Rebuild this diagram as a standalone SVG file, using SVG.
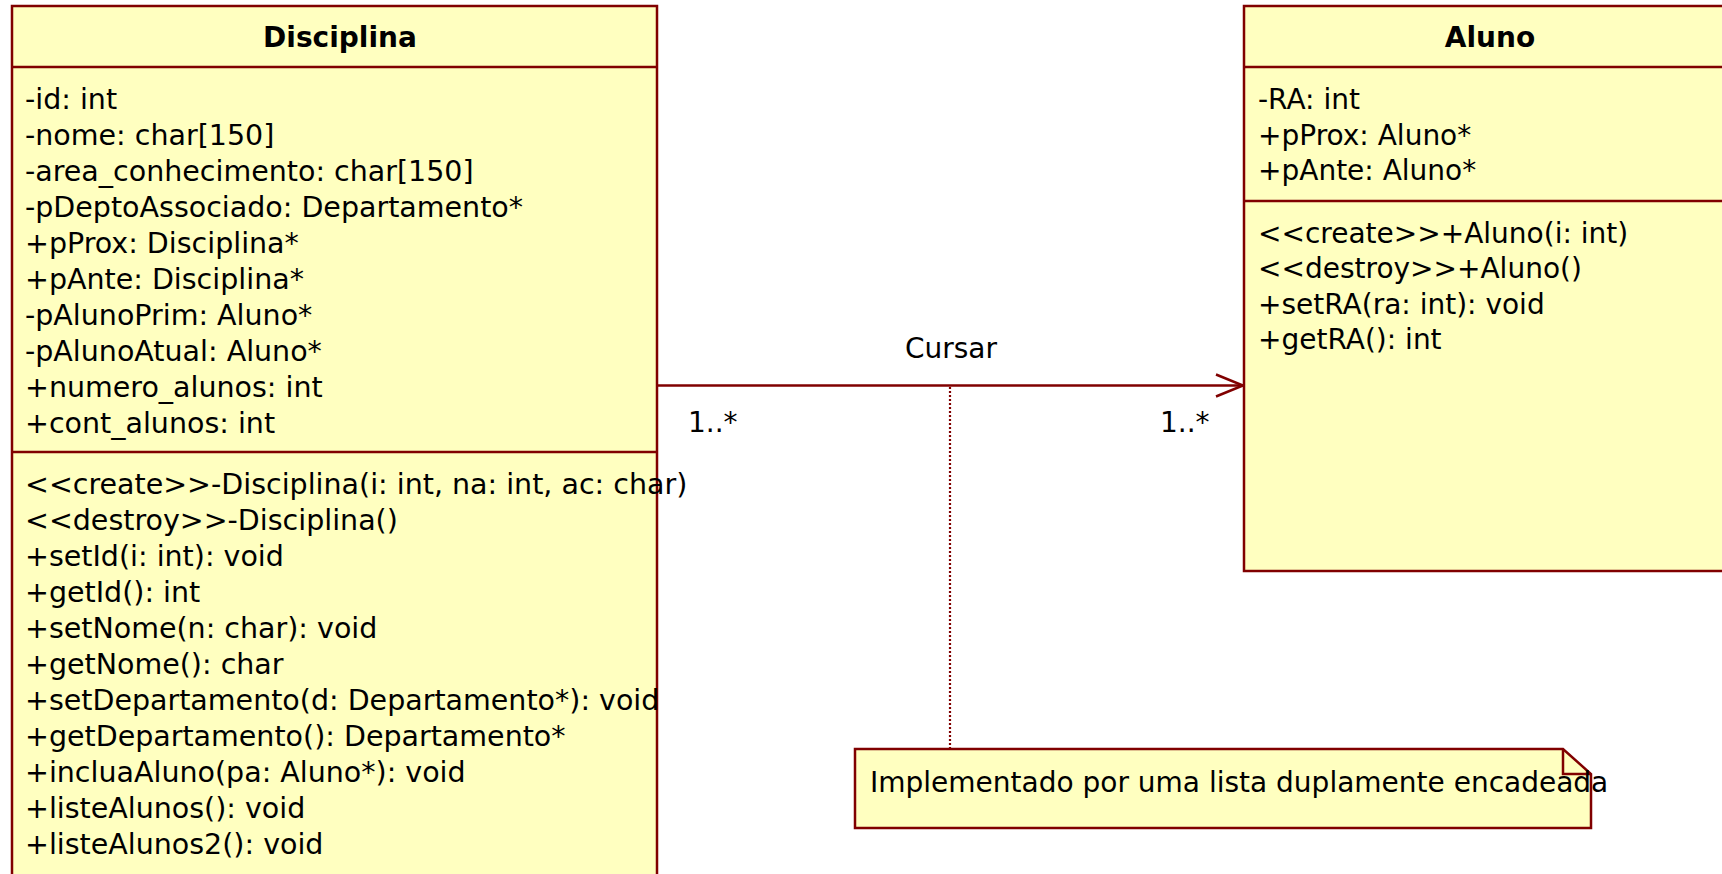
<svg xmlns="http://www.w3.org/2000/svg" width="1722" height="874" viewBox="0 0 1722 874">
<style>
.box{fill:#FFFFC0;stroke:#800000;stroke-width:2.5}
.div{stroke:#800000;stroke-width:2.5}
.t{font-family:"DejaVu Sans",Verdana,sans-serif;font-size:28px;fill:#000}
.td{font-family:"DejaVu Sans",Verdana,sans-serif;font-size:28.5px;fill:#000}
.title{font-family:"DejaVu Sans",Verdana,sans-serif;font-size:28px;font-weight:bold;fill:#000;text-anchor:middle}
.conn{stroke:#800000;stroke-width:2.5;fill:none}
.dot{stroke:#800000;stroke-width:2.2;fill:none;stroke-dasharray:2,2}
</style>
<rect width="1722" height="874" fill="#fff"/>
<g id="connectors">
<line class="conn" x1="657" y1="385.5" x2="1243" y2="385.5"/>
<polyline class="conn" points="1216,374.5 1243,385.5 1216,396.5"/>
<line class="dot" x1="950" y1="387" x2="950" y2="748"/>
<text class="t" x="951" y="358" text-anchor="middle">Cursar</text>
<text class="t" x="688" y="432">1..*</text>
<text class="t" x="1160" y="432">1..*</text>
</g>
<g id="Disciplina">
<rect class="box" x="12" y="6" width="645" height="880"/>
<line class="div" x1="12" y1="67" x2="657" y2="67"/>
<line class="div" x1="12" y1="452" x2="657" y2="452"/>
<text class="title" x="340" y="47">Disciplina</text>
<text class="td" x="25" y="109">-id: int</text>
<text class="td" x="25" y="145">-nome: char[150]</text>
<text class="td" x="25" y="181">-area_conhecimento: char[150]</text>
<text class="td" x="25" y="217">-pDeptoAssociado: Departamento*</text>
<text class="td" x="25" y="253">+pProx: Disciplina*</text>
<text class="td" x="25" y="289">+pAnte: Disciplina*</text>
<text class="td" x="25" y="325">-pAlunoPrim: Aluno*</text>
<text class="td" x="25" y="361">-pAlunoAtual: Aluno*</text>
<text class="td" x="25" y="397">+numero_alunos: int</text>
<text class="td" x="25" y="433">+cont_alunos: int</text>
<text class="td" x="25" y="494">&lt;&lt;create&gt;&gt;-Disciplina(i: int, na: int, ac: char)</text>
<text class="td" x="25" y="530">&lt;&lt;destroy&gt;&gt;-Disciplina()</text>
<text class="td" x="25" y="566">+setId(i: int): void</text>
<text class="td" x="25" y="602">+getId(): int</text>
<text class="td" x="25" y="638">+setNome(n: char): void</text>
<text class="td" x="25" y="674">+getNome(): char</text>
<text class="td" x="25" y="710">+setDepartamento(d: Departamento*): void</text>
<text class="td" x="25" y="746">+getDepartamento(): Departamento*</text>
<text class="td" x="25" y="782">+incluaAluno(pa: Aluno*): void</text>
<text class="td" x="25" y="818">+listeAlunos(): void</text>
<text class="td" x="25" y="854">+listeAlunos2(): void</text>
</g>
<g id="Aluno">
<rect class="box" x="1244" y="6" width="500" height="565"/>
<line class="div" x1="1244" y1="67" x2="1744" y2="67"/>
<line class="div" x1="1244" y1="201" x2="1744" y2="201"/>
<text class="title" x="1490" y="47">Aluno</text>
<text class="t" x="1258" y="109">-RA: int</text>
<text class="t" x="1258" y="145">+pProx: Aluno*</text>
<text class="t" x="1258" y="180">+pAnte: Aluno*</text>
<text class="t" x="1258" y="243">&lt;&lt;create&gt;&gt;+Aluno(i: int)</text>
<text class="t" x="1258" y="278">&lt;&lt;destroy&gt;&gt;+Aluno()</text>
<text class="t" x="1258" y="314">+setRA(ra: int): void</text>
<text class="t" x="1258" y="349">+getRA(): int</text>
</g>
<g id="note">
<path class="box" d="M855,749 L1563,749 L1591,774 L1591,828 L855,828 Z"/>
<polyline class="conn" points="1563,749 1563,774 1591,774"/>
<text class="t" x="870" y="792">Implementado por uma lista duplamente encadeada</text>
</g>
</svg>
